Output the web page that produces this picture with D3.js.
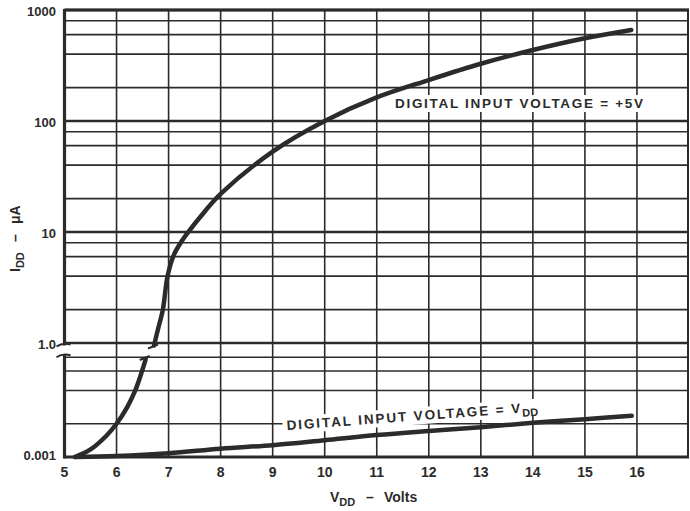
<!DOCTYPE html>
<html>
<head>
<meta charset="utf-8">
<script src="https://cdn.jsdelivr.net/npm/d3@7"></script>
<style>
  html, body { margin: 0; padding: 0; background: #fff; }
  svg { display: block; }
  text { font-family: "Liberation Sans", Arial, sans-serif; fill: #2b2b2b; }
</style>
</head>
<body>
<svg id="chart" width="690" height="511"></svg>
<script>
// values
const xTicks = [5, 6, 7, 8, 9, 10, 11, 12, 13, 14, 15, 16];
const upperDecades = [1, 10, 100, 1000];
const upperTickLabels = ["1.0", "10", "100", "1000"];
const lowerDecades = [0.001];
const lowerTickLabels = ["0.001"];
const minorSteps = [2, 4, 6, 8];

// +5V curve, part below the break (lower scale) and above it (upper scale)
const plus5Lower = [[5.2, 0.001], [5.5, 0.00117], [5.8, 0.00155], [6.0, 0.002], [6.2, 0.0028],
  [6.36, 0.004], [6.49, 0.006], [6.56, 0.0077]];
const plus5Upper = [[6.72, 0.95], [6.8, 1.35], [6.89, 2], [6.98, 4], [7.1, 6.2], [7.24, 8.1], [7.4, 10.3],
  [7.6, 13.5], [8, 22], [9, 53], [10, 100], [11, 163], [12, 234], [13, 328], [14, 436], [15, 556], [15.89, 661]];
// VDD curve (lower scale)
const vddCurve = [[5.2, 0.001], [6, 0.00102], [7, 0.00108], [8, 0.00119], [9, 0.00128], [10, 0.00142],
  [11, 0.00158], [12, 0.00172], [13, 0.00186], [14, 0.00204], [15, 0.0022], [15.9, 0.00236]];

const svg = d3.select("#chart");
const ink = "#2b2b2b";

const x = d3.scaleLinear().domain([5, 17]).range([64.5, 689]);
const yU = d3.scaleLog().domain([1, 1000]).range([343, 10]);
const yL = d3.scaleLog().domain([0.001, 0.01]).range([457, 346.5]);

const grid = svg.append("g").attr("stroke", ink).attr("fill", "none");

// vertical grid
grid.selectAll("line.v").data(xTicks.slice(1)).join("line")
  .attr("x1", d => x(d)).attr("x2", d => x(d))
  .attr("y1", yU(1000)).attr("y2", yL(0.001))
  .attr("stroke-width", 1.6);

// horizontal minor lines
const upperMinor = [];
upperDecades.slice(0, 3).forEach(d => minorSteps.forEach(m => upperMinor.push(d * m)));
const lowerMinor = minorSteps.map(m => 0.001 * m);

grid.selectAll("line.hu").data(upperMinor).join("line")
  .attr("x1", x(5)).attr("x2", x(17))
  .attr("y1", d => yU(d)).attr("y2", d => yU(d))
  .attr("stroke-width", 1.6);
grid.selectAll("line.hl").data(lowerMinor).join("line")
  .attr("x1", x(5)).attr("x2", x(17))
  .attr("y1", d => yL(d)).attr("y2", d => yL(d))
  .attr("stroke-width", 1.6);
// decade lines
grid.selectAll("line.hd").data(upperDecades).join("line")
  .attr("x1", x(5)).attr("x2", x(17))
  .attr("y1", d => yU(d)).attr("y2", d => yU(d))
  .attr("stroke-width", 2.4);

// frame
grid.append("line").attr("x1", x(5)).attr("x2", x(17)).attr("y1", yL(0.001)).attr("y2", yL(0.001)).attr("stroke-width", 3.2);
grid.append("line").attr("x1", x(5)).attr("x2", x(5)).attr("y1", yU(1000) - 1).attr("y2", yL(0.001) + 1.5).attr("stroke-width", 3.2);
grid.append("line").attr("x1", x(17) - 1).attr("x2", x(17) - 1).attr("y1", yU(1000)).attr("y2", yL(0.001)).attr("stroke-width", 2);
grid.append("line").attr("x1", x(5)).attr("x2", x(17)).attr("y1", yU(1000)).attr("y2", yU(1000)).attr("stroke-width", 3);

// axis break on the left edge
const bTop = yU(1) + 2.5, bBot = yL(0.008) - 2.5;
svg.append("rect").attr("x", x(5) - 3).attr("y", bTop).attr("width", 6).attr("height", bBot - bTop).attr("fill", "#fff");
[yU(1) + 1.5, yL(0.008) - 2].forEach(yy => {
  svg.append("path")
    .attr("d", `M${x(5) - 8},${yy + 2} Q${x(5) - 2},${yy - 2} ${x(5) + 6},${yy}`)
    .attr("stroke", ink).attr("stroke-width", 2).attr("fill", "none");
});

// curves
const line = d3.line().curve(d3.curveCatmullRom.alpha(0.5));
const curveStyle = sel => sel.attr("fill", "none").attr("stroke", ink)
  .attr("stroke-width", 4.5).attr("stroke-linecap", "round");

svg.append("path").datum(plus5Lower.map(d => [x(d[0]), yL(d[1])]))
  .attr("d", line).call(curveStyle);
svg.append("path").datum(plus5Upper.map(d => [x(d[0]), yU(d[1])]))
  .attr("d", line).call(curveStyle);
svg.append("path").datum(vddCurve.map(d => [x(d[0]), yL(d[1])]))
  .attr("d", line).call(curveStyle);

// break marks on the +5V curve
[[x(6.72) - 4, yU(0.95) + 1], [x(6.56) - 4, yL(0.0077) - 1]].forEach(([px, py]) => {
  svg.append("line").attr("x1", px - 2).attr("x2", px + 8).attr("y1", py + 2).attr("y2", py - 2)
    .attr("stroke", ink).attr("stroke-width", 2);
});

// tick labels
const labels = svg.append("g").attr("font-size", 13).attr("font-weight", "bold");
labels.selectAll("text.yu").data(upperDecades).join("text")
  .attr("x", 56).attr("y", d => yU(d) + 3).attr("text-anchor", "end").attr("dominant-baseline", "middle")
  .text((d, i) => upperTickLabels[i]);
labels.selectAll("text.yl").data(lowerDecades).join("text")
  .attr("x", 56).attr("y", d => yL(d)).attr("text-anchor", "end").attr("dominant-baseline", "middle")
  .text((d, i) => lowerTickLabels[i]);
labels.selectAll("text.x").data(xTicks).join("text")
  .attr("x", d => x(d)).attr("y", 477).attr("text-anchor", "middle")
  .attr("font-size", 14)
  .text(d => d);

// axis titles
const xt = svg.append("text").attr("x", 330).attr("y", 502).attr("font-size", 14).attr("font-weight", "bold");
xt.append("tspan").text("V");
xt.append("tspan").attr("dy", 4).attr("font-size", 11).text("DD");
xt.append("tspan").attr("dy", -4).attr("x", 366).text("–");
xt.append("tspan").attr("x", 384).text("Volts");

const yt = svg.append("text").attr("transform", "translate(20,272) rotate(-90)")
  .attr("font-size", 14).attr("font-weight", "bold");
yt.append("tspan").text("I");
yt.append("tspan").attr("dy", 4).attr("font-size", 11).text("DD");
yt.append("tspan").attr("dy", -4).attr("x", 30).text("–");
yt.append("tspan").attr("x", 48).text("μA");

// curve labels
svg.append("rect").attr("x", 391).attr("y", 95).attr("width", 256).attr("height", 17).attr("fill", "#fff");
svg.append("text").attr("x", 395).attr("y", 108).attr("font-size", 13.5).attr("font-weight", "bold")
  .attr("textLength", 248).attr("lengthAdjust", "spacing")
  .text("DIGITAL INPUT VOLTAGE = +5V");

const lt = svg.append("g").attr("transform", "translate(287,430) rotate(-4.2)");
lt.append("rect").attr("x", -4).attr("y", -13).attr("width", 262).attr("height", 17).attr("fill", "#fff");
const lx = lt.append("text").attr("x", 0).attr("y", 0).attr("font-size", 13.5).attr("font-weight", "bold");
lx.append("tspan").attr("textLength", 234).attr("lengthAdjust", "spacing").text("DIGITAL INPUT VOLTAGE = V");
lx.append("tspan").attr("dy", 4).attr("font-size", 11).text("DD");
</script>
</body>
</html>
